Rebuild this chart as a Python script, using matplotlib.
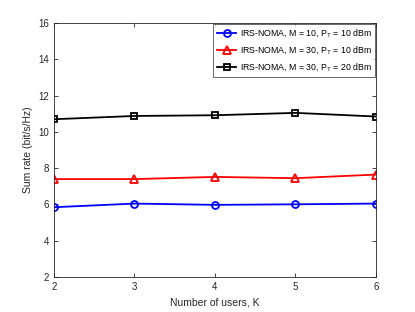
import matplotlib
matplotlib.use("Agg")
import matplotlib.pyplot as plt

K = [2, 3, 4, 5, 6]
blue = [5.85, 6.05, 5.98, 6.01, 6.05]
red = [7.40, 7.40, 7.52, 7.45, 7.65]
black = [10.70, 10.88, 10.92, 11.05, 10.85]
labels = [r"IRS-NOMA, M = 10, P$_\mathrm{T}$ = 10 dBm",
          r"IRS-NOMA, M = 30, P$_\mathrm{T}$ = 10 dBm",
          r"IRS-NOMA, M = 30, P$_\mathrm{T}$ = 20 dBm"]
yticks = [2, 4, 6, 8, 10, 12, 14, 16]

plt.rcParams['font.family'] = ['Liberation Sans', 'DejaVu Sans']
plt.rcParams['mathtext.fontset'] = 'custom'
plt.rcParams['mathtext.rm'] = 'Liberation Sans'

fig = plt.figure(figsize=(4.15, 3.12), dpi=100)
ax = fig.add_axes([0.130, 0.112, 0.776, 0.814])
ax.plot(K, blue, '-o', color='#0000ff', lw=1.3, ms=5, mfc='none', mew=1.3, label=labels[0])
ax.plot(K, red, '-^', color='#ff0000', lw=1.3, ms=5.5, mfc='none', mew=1.3, label=labels[1])
ax.plot(K, black, '-s', color='#000000', lw=1.3, ms=4.5, mfc='none', mew=1.3, label=labels[2])
ax.set_xlim(2, 6)
ax.set_ylim(2, 16)
ax.set_xticks(K)
ax.set_yticks(yticks)
ax.tick_params(direction='in', which='both', top=True, right=True, labelsize=7, length=3, width=0.6, colors='#262626')
for s in ax.spines.values():
    s.set_linewidth(0.6)
    s.set_color('#262626')
ax.set_xlabel("Number of users, K", fontsize=7.5, color='#262626')
ax.set_ylabel("Sum rate (bit/s/Hz)", fontsize=7.5, color='#262626')
leg = ax.legend(loc='upper right', fontsize=6.3, frameon=True, fancybox=False, edgecolor='#262626',
                borderaxespad=0.1, handlelength=2.2, labelspacing=0.55, borderpad=0.4,
                handletextpad=0.4)
leg.get_frame().set_linewidth(0.6)
fig.savefig("out.png", dpi=100)
